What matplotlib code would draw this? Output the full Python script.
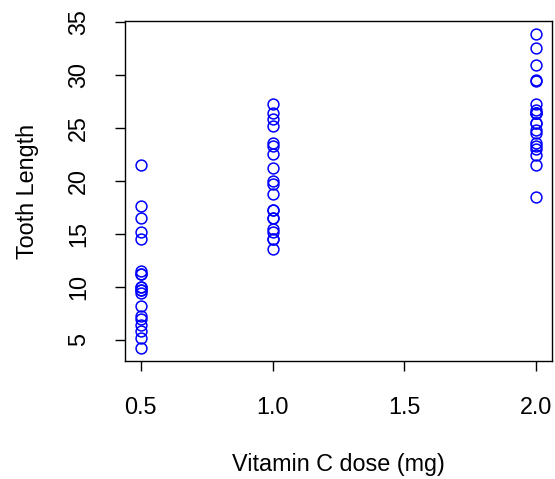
import matplotlib
matplotlib.use("Agg")
from matplotlib import pyplot as plt

plt.rcParams["font.family"] = ["Liberation Sans", "DejaVu Sans"]

# ToothGrowth: dose vs len
dose = [0.5] * 10 + [1.0] * 10 + [2.0] * 10 + [0.5] * 10 + [1.0] * 10 + [2.0] * 10
length = [4.2, 11.5, 7.3, 5.8, 6.4, 10, 11.2, 11.2, 5.2, 7,
          16.5, 16.5, 15.2, 17.3, 22.5, 17.3, 13.6, 14.5, 18.8, 15.5,
          23.6, 18.5, 33.9, 25.5, 26.4, 32.5, 26.7, 21.5, 23.3, 29.5,
          15.2, 21.5, 17.6, 9.7, 14.5, 10, 8.2, 9.4, 16.5, 9.7,
          19.7, 23.3, 23.6, 26.4, 20, 25.2, 25.8, 21.2, 14.5, 27.3,
          25.5, 26.4, 22.4, 24.5, 24.8, 30.9, 26.4, 27.3, 29.4, 23]
x_ticks = [0.5, 1.0, 1.5, 2.0]
y_ticks = [5, 10, 15, 20, 25, 30, 35]

fs = 16.8

fig = plt.figure(figsize=(5.55, 4.79), dpi=100)
ax = fig.add_axes([125 / 555, (479 - 361) / 479, (552 - 125) / 555, (361 - 21) / 479])

ax.plot(dose, length, linestyle="none", marker="o", markersize=7.8,
        markerfacecolor="none", markeredgecolor="blue", markeredgewidth=1.1)

xr = max(dose) - min(dose)
yr = max(length) - min(length)
ax.set_xlim(min(dose) - 0.04 * xr, max(dose) + 0.04 * xr)
ax.set_ylim(min(length) - 0.04 * yr, max(length) + 0.04 * yr)

ax.set_xticks(x_ticks)
ax.set_xticklabels(["0.5", "1.0", "1.5", "2.0"])
ax.set_yticks(y_ticks)
ax.set_yticklabels([str(v) for v in y_ticks], rotation=90, va="center")
ax.tick_params(axis="both", length=7, width=1, labelsize=fs)
ax.tick_params(axis="x", pad=18)
ax.tick_params(axis="y", pad=18)

for s in ax.spines.values():
    s.set_linewidth(1)

ax.set_xlabel("Vitamin C dose (mg)", fontsize=fs, labelpad=25)
ax.set_ylabel("Tooth Length", fontsize=fs, labelpad=20)

plt.savefig("out.png", dpi=100)
